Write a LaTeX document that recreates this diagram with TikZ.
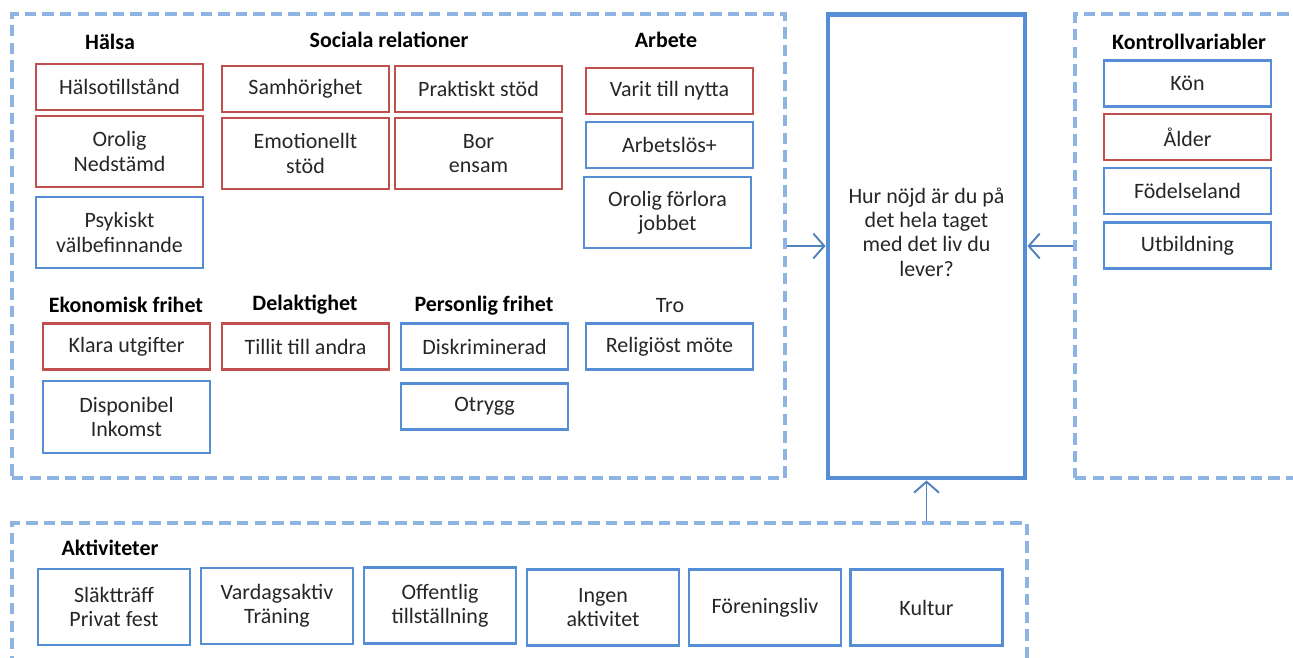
\documentclass[tikz,border=0pt]{standalone}
\usepackage{fontspec}
\setmainfont{Carlito}
\usetikzlibrary{arrows.meta}

\definecolor{boxred}{HTML}{C0504D}
\definecolor{boxblue}{HTML}{558ED5}
\definecolor{groupblue}{HTML}{8EB4E3}
\definecolor{arrowblue}{HTML}{4F81BD}

\newcommand*{\boxw}{167}
\newcommand*{\boxh}{46}
\newcommand*{\tallh}{71}

\begin{document}
\begin{tikzpicture}
[
	x=0.02cm,
	y=-0.02cm,
	every node/.style={font=\fontsize{12.5}{13.8}\selectfont,text=black!85},
	var/.style={rectangle,draw,line width=1.3pt,align=center,inner sep=0pt,
		minimum width=\boxw*0.02cm,minimum height=\boxh*0.02cm},
	redvar/.style={var,draw=boxred},
	bluevar/.style={var,draw=boxblue},
	tall/.style={minimum height=\tallh*0.02cm},
	actvar/.style={var,draw=boxblue,minimum width=3.04cm,minimum height=1.52cm},
	head/.style={font=\fontsize{12.5}{13.8}\selectfont\bfseries,text=black},
	group/.style={rectangle,draw=groupblue,line width=2pt,dash pattern=on 6.5pt off 3.5pt,inner sep=0pt},
	link/.style={-{Straight Barb[length=2.2mm,width=5mm,line width=1.1pt]},draw=arrowblue,line width=1.1pt}
]

	\useasboundingbox (0,0) rectangle (1293,657);
	\clip (0,0) rectangle (1293,657);

	% groups
	\node[group,minimum width=15.46cm,minimum height=9.28cm] (factors) at (398.5,246) {};
	\node[group,minimum width=4.7cm,minimum height=9.28cm] (controls) at (1192.5,246) {};
	\node[group,minimum width=20.3cm,minimum height=3.14cm] (activities) at (519.5,601.5) {};

	% outcome
	\node[rectangle,draw=boxblue,line width=2.8pt,minimum width=3.94cm,minimum height=9.28cm] (outcome) at (926.5,246) {};
	\node[align=center] (question) at (926.5,232) {Hur nöjd är du på\\det hela taget\\med det liv du\\lever?};

	% halsa
	\node[head] (halsa) at (110,42) {Hälsa};
	\node[redvar] (halsotillstand) at (119.5,87) {Hälsotillstånd};
	\node[redvar,tall] (nedstamd) at (119.5,151.5) {Orolig\\Nedstämd};
	\node[bluevar,tall] (valbefinnande) at (119.5,232.5) {Psykiskt\\välbefinnande};

	% sociala relationer
	\node[head] (sociala) at (389,40) {Sociala relationer};
	\node[redvar] (samhorighet) at (305.5,89) {Samhörighet};
	\node[redvar] (praktiskt) at (478.5,89) {Praktiskt stöd};
	\node[redvar,tall] (emotionellt) at (305.5,153.5) {Emotionellt\\stöd};
	\node[redvar,tall] (ensam) at (478.5,153.5) {Bor\\ensam};

	% arbete
	\node[head] (arbete) at (666,40) {Arbete};
	\node[redvar] (nytta) at (669.5,91) {Varit till nytta};
	\node[bluevar] (arbetslos) at (669.5,145) {Arbetslös+};
	\node[bluevar,tall] (forlora) at (667.5,212.5) {Orolig förlora\\jobbet};

	% ekonomisk frihet
	\node[head] (ekonomisk) at (126,305) {Ekonomisk frihet};
	\node[redvar] (utgifter) at (126.5,346.5) {Klara utgifter};
	\node[bluevar,minimum height=1.44cm] (inkomst) at (126.5,417) {Disponibel\\Inkomst};

	% delaktighet
	\node[head] (delaktighet) at (305,305) {Delaktighet};
	\node[redvar] (tillit) at (305.5,346.5) {Tillit till andra};

	% personlig frihet
	\node[head] (personlig) at (484,306) {Personlig frihet};
	\node[bluevar] (diskriminerad) at (484.5,346.5) {Diskriminerad};
	\node[bluevar] (otrygg) at (484.5,406.5) {Otrygg};

	% tro
	\node (tro) at (670,306) {Tro};
	\node[bluevar] (religios) at (669.5,346.5) {Religiöst möte};

	% kontrollvariabler
	\node[head] (kontroll) at (1189,42) {Kontrollvariabler};
	\node[bluevar] (kon) at (1187.5,83.5) {Kön};
	\node[redvar] (alder) at (1187.5,137) {Ålder};
	\node[bluevar] (fodelseland) at (1187.5,191) {Födelseland};
	\node[bluevar] (utbildning) at (1187.5,245.5) {Utbildning};

	% aktiviteter
	\node[head] (aktiviteter) at (110,548) {Aktiviteter};
	\node[actvar] (slakttraff) at (114,607) {Släktträff\\Privat fest};
	\node[actvar] (vardagsaktiv) at (277,606) {Vardagsaktiv\\Träning};
	\node[actvar] (offentlig) at (440,605.5) {Offentlig\\tillställning};
	\node[actvar] (ingen) at (603,607.5) {Ingen\\aktivitet};
	\node[actvar] (forening) at (765,607.5) {Föreningsliv};
	\node[actvar] (kultur) at (926.5,607.5) {Kultur};

	% arrows
	\draw[link] (factors.east) -- (outcome.west);
	\draw[link] (controls.west) -- (outcome.east);
	\draw[link] (activities.north -| outcome.south) -- (outcome.south);

\end{tikzpicture}
\end{document}
